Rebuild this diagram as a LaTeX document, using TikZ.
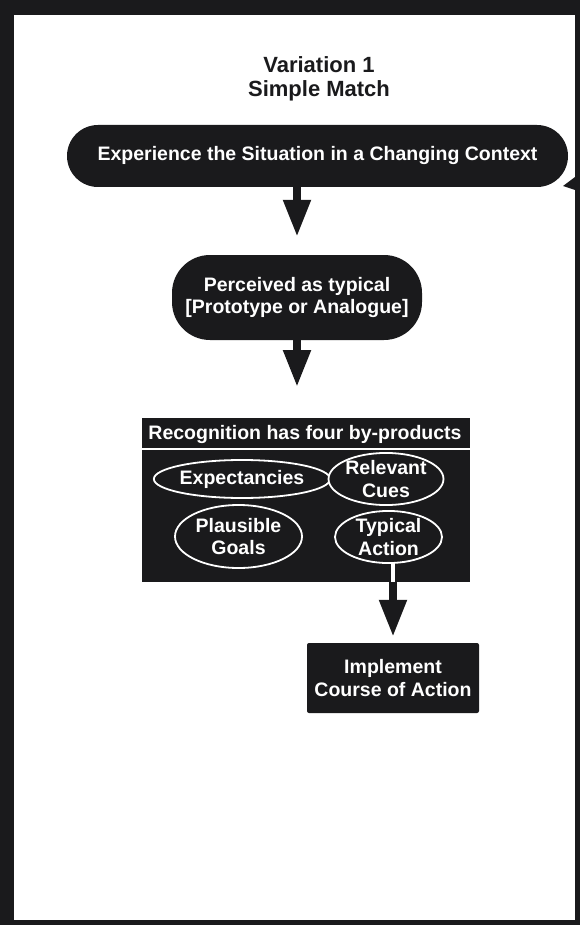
\documentclass[tikz,border=0pt]{standalone}
\usepackage{fontspec}
\setmainfont{Liberation Sans}
\usetikzlibrary{shapes.geometric,shapes.misc,arrows.meta,calc}
\definecolor{ink}{RGB}{26,26,28}
\tikzset{
  wtext/.style={text=white,font=\fontsize{19.5}{22.5}\selectfont\bfseries,align=center,inner sep=0pt},
  pill/.style={wtext,rounded rectangle,fill=ink,draw=none},
  blk/.style={wtext,rectangle,fill=ink,draw=none},
  oval/.style={wtext,ellipse,fill=ink,draw=white,line width=1.8pt,inner sep=0pt},
  blockarrow/.style={draw=ink,line width=8pt,-{Triangle[width=26pt,length=37pt]},fill=ink},
  whiteline/.style={draw=white,line width=3.5pt}
}
\begin{document}
\begin{tikzpicture}[x=1pt,y=-1pt]
\fill[ink] (0,0) rectangle (580,925);
\fill[white] (14,15) rectangle (575,920);
\useasboundingbox (0,0) rectangle (580,925);
% title
\node[font=\fontsize{22}{24}\selectfont\bfseries,text=ink,align=center,inner sep=0pt] (title) at (319,79) {Variation 1\\Simple Match};
% top pill
\node[pill,minimum width=501pt,minimum height=62pt] (p1) at (317.5,156) {Experience the Situation in a Changing Context};
% partial arrow at right edge
\fill[ink] (563,186) -- (575,177) -- (575,190) -- cycle;
% second pill
\node[blk,rounded corners=38pt,minimum width=250pt,minimum height=85pt] (p2) at (297,297.5) {Perceived as typical\\{}[Prototype or Analogue]};
% box with by-products
\node[blk,minimum width=328pt,minimum height=164pt,anchor=north] (b3) at (306,418) {};
\node[wtext] (hdr) at (305,434) {Recognition has four by-products};
\coordinate (sepL) at (b3.west |- 0,449);
\coordinate (sepR) at (b3.east |- 0,449);
\draw[white,line width=2.2pt] (sepL) -- (sepR);
\node[oval,minimum width=148pt,minimum height=38pt] (ex) at (242,479) {Expectancies};
\node[oval,minimum width=108pt,minimum height=52pt] (rc) at (386,479) {Relevant\\Cues};
\node[oval,minimum width=127pt,minimum height=63pt] (pg) at (238.5,536.5) {Plausible\\Goals};
\node[oval,minimum width=107pt,minimum height=50pt] (ta) at (388.5,537) {Typical\\Action};
% final box
\node[blk,rounded corners=2pt,minimum width=172pt,minimum height=70pt] (b4) at (393,678) {Implement\\Course of Action};
% connectors
\coordinate (a1s) at (p2.north |- p1.south);
\draw[blockarrow,shorten >=18pt] (a1s) -- (p2.north);
\coordinate (a2e) at (p2.south |- b3.north);
\draw[blockarrow,shorten >=31pt] (p2.south) -- (a2e);
\coordinate (a3s) at (b4.north |- ta.south);
\coordinate (a3m) at (b4.north |- b3.south);
\draw[whiteline] (a3s) -- (a3m);
\draw[blockarrow,shorten >=6pt] (a3m) -- (b4.north);
\end{tikzpicture}
\end{document}
